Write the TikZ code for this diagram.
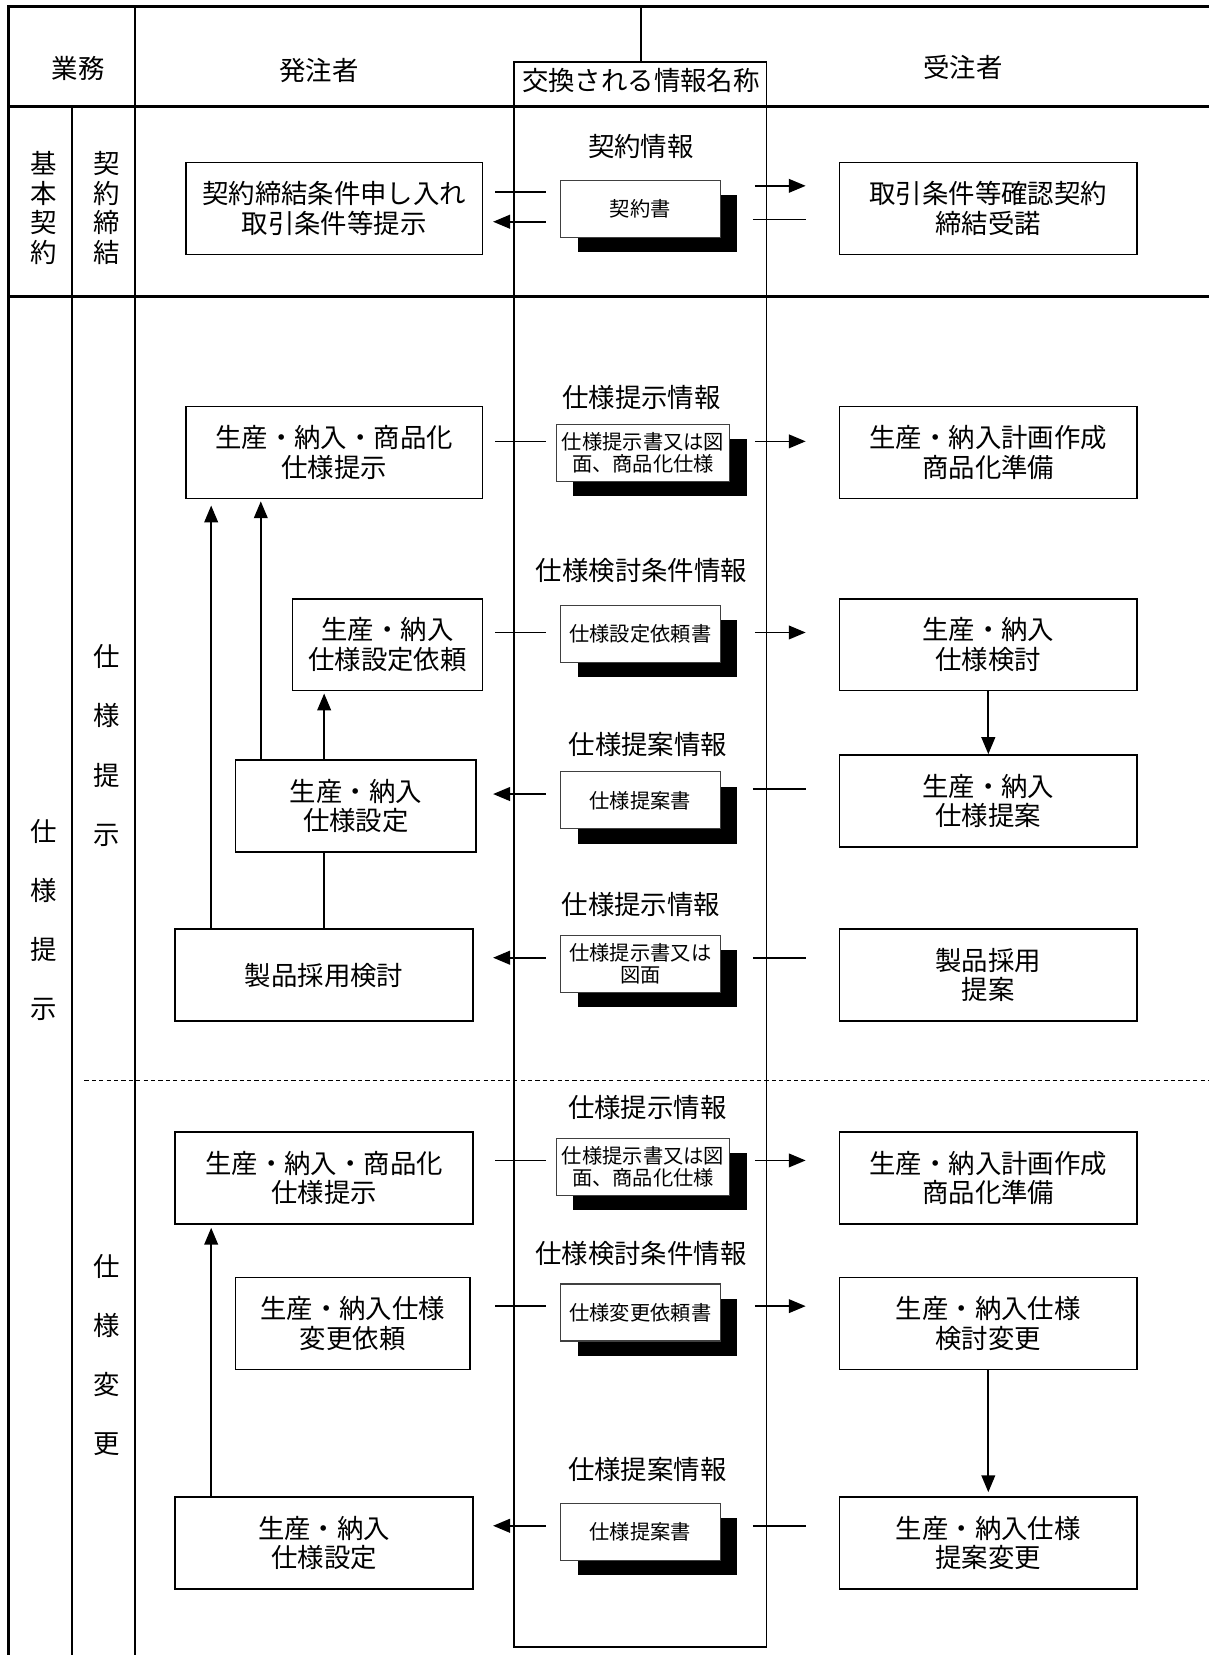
\documentclass[tikz,border=0pt]{standalone}
\usepackage{fontspec}
\newfontfamily\jp{Noto Sans CJK JP}
\usetikzlibrary{arrows.meta,shadows}
\begin{document}
\begin{tikzpicture}[x=0.5pt,y=-0.5pt,
  every node/.style={font=\jp\fontsize{12.5}{14}\selectfont, inner sep=0pt},
  grid/.style={line width=0.8pt},
  heavy/.style={line width=1.4pt},
  pbox/.style={draw, line width=0.8pt, align=center, minimum height=43.5pt},
  doc/.style={draw=black!75, line width=0.5pt, fill=white, align=center,
    minimum height=27pt, minimum width=75.5pt,
    font=\jp\fontsize{9.6}{10.5}\selectfont,
    drop shadow={shadow xshift=8pt, shadow yshift=-7pt, fill=black, opacity=1}},
  vert/.style={align=center, font=\jp\fontsize{12.5}{28}\selectfont},
  arr/.style={-{Triangle[length=8pt,width=6.5pt]}, line width=0.8pt},
  ln/.style={line width=0.8pt}
]
\useasboundingbox (0,0) rectangle (1145,1567.4);

% ---- grid ----
\draw[heavy] (1145,6) -- (8,6) -- (8,1567.4);
\draw[grid] (128,6) -- (128,1567.4);
\draw[grid] (68,101) -- (68,1567.4);
\draw[heavy] (8,101) -- (1145,101);
\draw[heavy] (8,281) -- (1145,281);
\draw[grid] (607,6) -- (607,59);
\draw[grid] (487,59) rectangle (726,1560);
\draw[line width=0.6pt, dash pattern=on 2pt off 1.5pt] (80,1023) -- (1145,1023);

% ---- headers ----
\node (h1) at (74,65) {業務};
\node (h2) at (302,67) {発注者};
\node (h3) at (607,76) {交換される情報名称};
\node (h4) at (912,64) {受注者};

% ---- vertical labels ----
\node[vert, font=\jp\fontsize{12.5}{14}\selectfont] (v1) at (41,197) {基\\本\\契\\約};
\node[vert, font=\jp\fontsize{12.5}{14}\selectfont] (v2) at (101,197) {契\\約\\締\\結};
\node[vert] (v3) at (41,871) {仕\\様\\提\\示};
\node[vert] (v4) at (101,706) {仕\\様\\提\\示};
\node[vert] (v5) at (101,1283) {仕\\様\\変\\更};

% ---- info labels ----
\node (i1) at (607,139) {契約情報};
\node (i2) at (607.5,376) {仕様提示情報};
\node (i3) at (607.5,540) {仕様検討条件情報};
\node (i4) at (613.5,705) {仕様提案情報};
\node (i5) at (607,857) {仕様提示情報};
\node (i6) at (613,1049) {仕様提示情報};
\node (i7) at (607,1187) {仕様検討条件情報};
\node (i8) at (613,1392) {仕様提案情報};

% ---- documents ----
\node[doc] (D1) at (606.5,198) {契約書};
\node[doc, minimum width=82pt] (D2) at (609,429) {仕様提示書又は図\\面、商品化仕様};
\node[doc] (D3) at (606.5,600) {仕様設定依頼書};
\node[doc] (D4) at (606.5,758) {仕様提案書};
\node[doc] (D5) at (606.5,913) {仕様提示書又は\\図面};
\node[doc, minimum width=82pt] (D6) at (609,1105) {仕様提示書又は図\\面、商品化仕様};
\node[doc] (D7) at (606.5,1243) {仕様変更依頼書};
\node[doc] (D8) at (606.5,1451) {仕様提案書};

% ---- orderer boxes ----
\node[pbox, minimum width=140.5pt] (B1) at (316.5,197.5) {契約締結条件申し入れ\\取引条件等提示};
\node[pbox, minimum width=140.5pt] (B2) at (316.5,428.5) {生産・納入・商品化\\仕様提示};
\node[pbox, minimum width=90pt] (B3) at (367,610.5) {生産・納入\\仕様設定依頼};
\node[pbox, minimum width=114pt] (B4) at (337,763.5) {生産・納入\\仕様設定};
\node[pbox, minimum width=141pt] (B5) at (307,923.5) {製品採用検討};
\node[pbox, minimum width=141pt] (B6) at (307,1115.5) {生産・納入・商品化\\仕様提示};
\node[pbox, minimum width=111pt] (B7) at (334,1253.5) {生産・納入仕様\\変更依頼};
\node[pbox, minimum width=141pt] (B8) at (307,1461.5) {生産・納入\\仕様設定};

% ---- contractor boxes ----
\node[pbox, minimum width=141pt] (R1) at (936,197.5) {取引条件等確認契約\\締結受諾};
\node[pbox, minimum width=141pt] (R2) at (936,428.5) {生産・納入計画作成\\商品化準備};
\node[pbox, minimum width=141pt] (R3) at (936,610.5) {生産・納入\\仕様検討};
\node[pbox, minimum width=141pt] (R4) at (936,758.5) {生産・納入\\仕様提案};
\node[pbox, minimum width=141pt] (R5) at (936,923.5) {製品採用\\提案};
\node[pbox, minimum width=141pt] (R6) at (936,1115.5) {生産・納入計画作成\\商品化準備};
\node[pbox, minimum width=141pt] (R7) at (936,1253.5) {生産・納入仕様\\検討変更};
\node[pbox, minimum width=141pt] (R8) at (936,1461.5) {生産・納入仕様\\提案変更};

% ---- exchange stubs (left side) ----
\foreach \y in {182,418,599,1099,1237} \draw[ln] (469,\y) -- (517,\y);
\foreach \y in {210,752,907,1445} \draw[arr] (517,\y) -- (467,\y);
% ---- exchange stubs (right side) ----
\foreach \y in {176,418,599,1099,1237} \draw[arr] (715,\y) -- (763,\y);
\foreach \y in {208,747,907,1445} \draw[ln] (713,\y) -- (763,\y);

% ---- vertical flows ----
\draw[arr] (B5.north -| 200,0) -- ([yshift=-3pt]B2.south -| 200,0);
\draw[arr] (B4.north -| 247,0) -- ([yshift=-1pt]B2.south -| 247,0);
\draw[arr] (B4.north -| 307,0) -- ([yshift=-1pt]B3.south -| 307,0);
\draw[ln] (B5.north -| 307,0) -- (B4.south -| 307,0);
\draw[arr] (R3.south) -- (R4.north);
\draw[arr] (B8.north -| 200,0) -- ([yshift=-1.5pt]B6.south -| 200,0);
\draw[arr] (R7.south) -- ([yshift=2pt]R8.north);
\end{tikzpicture}
\end{document}
